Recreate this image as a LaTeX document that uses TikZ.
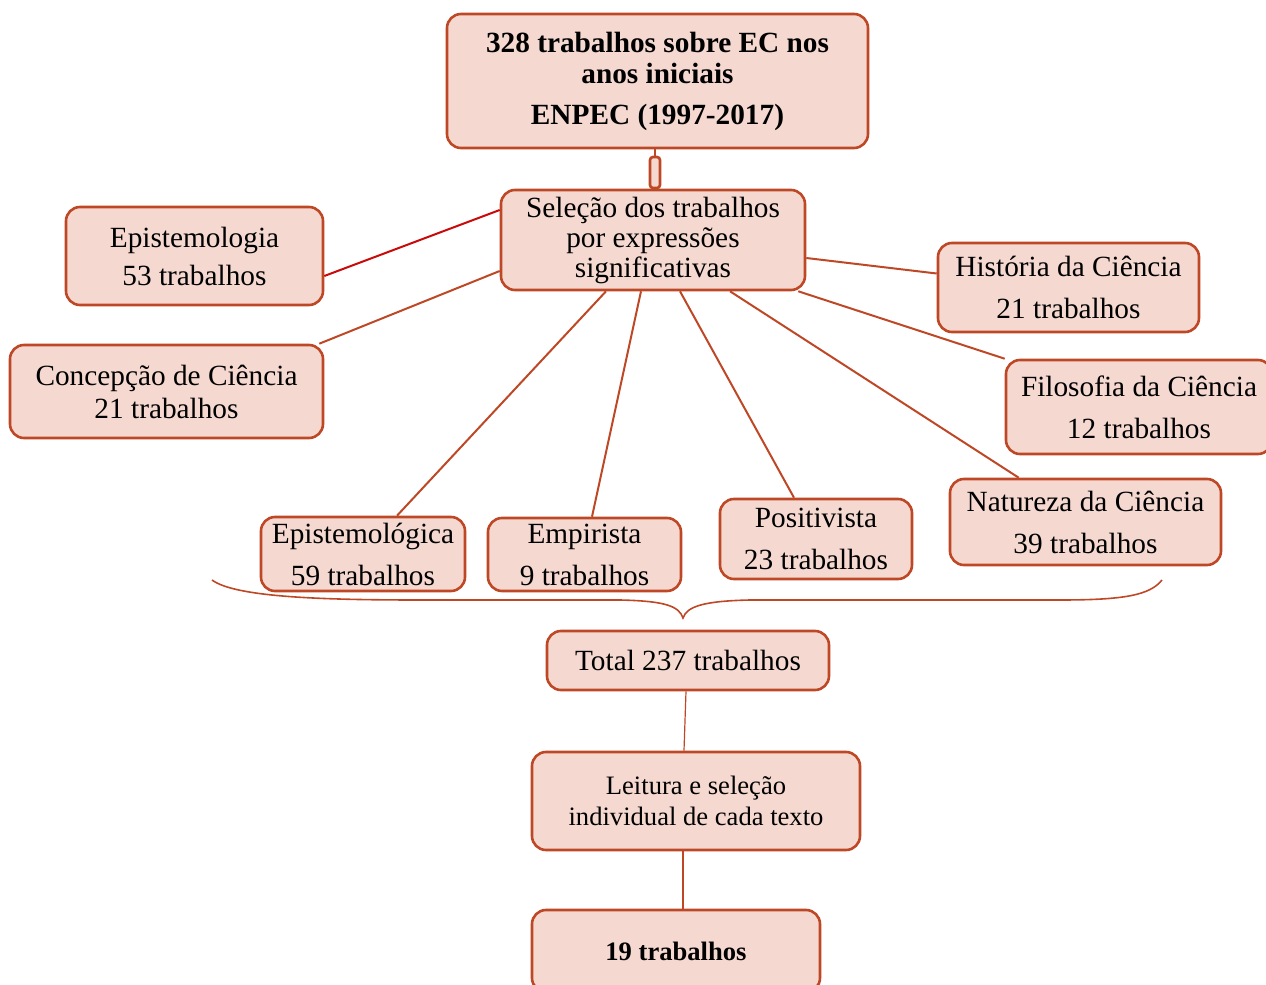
\documentclass[tikz,border=0pt]{standalone}
\usepackage{fontspec}
\setmainfont{Liberation Serif}
\definecolor{boxfill}{RGB}{245,217,209}
\definecolor{boxdraw}{RGB}{190,72,38}
\definecolor{redline}{RGB}{200,10,10}
\tikzset{
  box/.style={draw=boxdraw, fill=boxfill, line width=1.3pt, rounded corners=7pt, align=center, inner sep=0pt, font=\fontsize{14.65}{21}\selectfont},
  conn/.style={draw=boxdraw, line width=1pt},
  thinconn/.style={draw=boxdraw, line width=0.6pt},
  bracepath/.style={draw=boxdraw, line width=0.8pt}
}
\begin{document}
\begin{tikzpicture}[x=0.5pt,y=-0.5pt]
\useasboundingbox (0,0) rectangle (1266,985);
% nodes
\node[box, minimum width=210.5pt, minimum height=67pt, font=\bfseries\fontsize{14.65}{15.5}\selectfont] (top) at (657.5,81) {328 trabalhos sobre EC nos\\anos iniciais\\[5pt]ENPEC (1997-2017)};
\node[box, rounded corners=1.5pt, minimum width=5pt, minimum height=15.5pt] (small) at (655,172.5) {};
\node[box, minimum width=152pt, minimum height=50pt, font=\fontsize{14.65}{15}\selectfont] (sel) at (653,240) {Seleção dos trabalhos\\por expressões\\significativas};
\node[box, minimum width=128.5pt, minimum height=49pt, font=\fontsize{14.65}{19}\selectfont] (epi) at (194.5,256) {Epistemologia\\53 trabalhos};
\node[box, minimum width=156.5pt, minimum height=46.5pt, font=\fontsize{14.65}{16.5}\selectfont] (conc) at (166.5,391.5) {Concepção de Ciência\\21 trabalhos};
\node[box, minimum width=130.5pt, minimum height=44.5pt] (hist) at (1068.5,287.5) {História da Ciência\\21 trabalhos};
\node[box, minimum width=133pt, minimum height=47pt] (filo) at (1139,407) {Filosofia da Ciência\\12 trabalhos};
\node[box, minimum width=135.5pt, minimum height=43pt] (nat) at (1085.5,522) {Natureza da Ciência\\39 trabalhos};
\node[box, minimum width=96pt, minimum height=40pt] (pos) at (816,539) {Positivista\\23 trabalhos};
\node[box, minimum width=96.5pt, minimum height=36.5pt] (emp) at (584.5,554.5) {Empirista\\9 trabalhos};
\node[box, minimum width=102pt, minimum height=37pt] (epl) at (363,554) {Epistemológica\\59 trabalhos};
\node[box, minimum width=141pt, minimum height=29.5pt] (tot) at (688,660.5) {Total 237 trabalhos};
\node[box, minimum width=164pt, minimum height=49pt, font=\fontsize{13.3}{15.5}\selectfont] (leit) at (696,801) {Leitura e seleção\\individual de cada texto};
\node[box, minimum width=144pt, minimum height=41pt, font=\bfseries\fontsize{13.3}{15.5}\selectfont] (n19) at (676,951) {19 trabalhos};
% connectors
\draw[conn] (top.south -| small.north) -- (small.north);
\draw[draw=redline, line width=1pt] ([yshift=-10pt]epi.east) -- ([yshift=15pt]sel.west);
\draw[conn] ([xshift=-2.5pt]conc.north east) -- ([yshift=-15.5pt]sel.west);
\draw[conn] ([yshift=-9pt]sel.east) -- ([yshift=7pt]hist.west);
\draw[conn] ([xshift=-4pt]sel.south east) -- (filo.north west);
\draw[conn] ([xshift=38.5pt]sel.south) -- ([xshift=35pt]nat.north west);
\draw[conn] ([xshift=13.5pt]sel.south) -- ([xshift=-11pt]pos.north);
\draw[conn] ([xshift=-6pt]sel.south) -- ([xshift=3.75pt]emp.north);
\draw[conn] ([xshift=-23.5pt]sel.south) -- ([xshift=17pt]epl.north);
\draw[thinconn] ([xshift=-1pt]tot.south) -- ([xshift=-6pt]leit.north);
\draw[thinconn] ([xshift=-6.5pt]leit.south) -- ([xshift=3.5pt]n19.north);
% brace
\coordinate (bl) at (212,580);
\coordinate (bt) at (683,618);
\coordinate (br) at (1162,580);
\draw[bracepath] (bl) .. controls (235,597) and (320,600) .. (420,600) -- (620,600) .. controls (665,601) and (679,606) .. (bt)
  .. controls (687,606) and (705,601) .. (750,600) -- (1060,600) .. controls (1125,600) and (1150,595) .. (br);
\end{tikzpicture}
\end{document}
